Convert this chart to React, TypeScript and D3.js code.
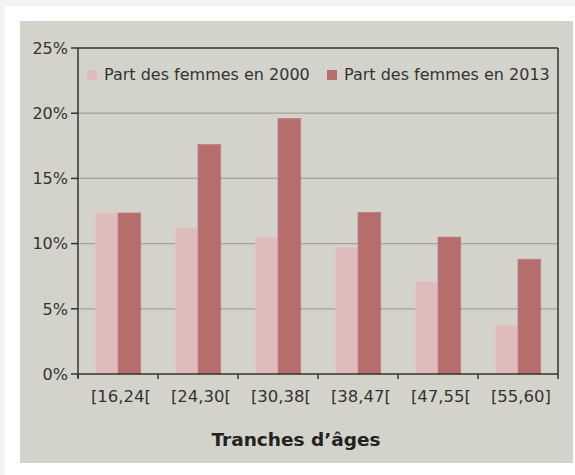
import React from "react";
import * as d3 from "d3";

const categories = ["[16,24[", "[24,30[", "[30,38[", "[38,47[", "[47,55[", "[55,60]"];
const series = ["Part des femmes en 2000", "Part des femmes en 2013"];
const values2000 = [12.35, 11.2, 10.5, 9.7, 7.1, 3.75];
const values2013 = [12.35, 17.6, 19.6, 12.4, 10.5, 8.8];
const yTicks = [0, 5, 10, 15, 20, 25];
const xTitle = "Tranches d’âges";

const colors = ["#dfbcbc", "#b56e6c"];
const FONT = "'DejaVu Sans', Verdana, sans-serif";

export default function App() {
  const W = 575, H = 475;
  const left = 78, right = 558, top = 48, bottom = 374;
  const x0 = d3.scaleBand<string>().domain(categories).range([left, right]).paddingInner(0).paddingOuter(0);
  const x1 = d3.scaleBand<string>().domain(series).range([0, x0.bandwidth()]).paddingInner(0).paddingOuter(0.76);
  const y = d3.scaleLinear().domain([0, 25]).range([bottom, top]);
  const data = [values2000, values2013];
  const boundaries = [...categories.map((c) => x0(c) as number), right];

  return (
    <div style={{ position: "absolute", left: 0, top: 0, width: W, height: H }}>
      <svg width={W} height={H} style={{ display: "block" }}>
        <rect x={0} y={0} width={W} height={H} fill="#f3f3f3" />
        <rect x={5} y={6} width={W} height={H} fill="#ffffff" />
        <rect x={20} y={21} width={553} height={442} fill="#d3d3cb" />
        {yTicks.filter((t) => t > 0 && t < 25).map((t) => (
          <line key={t} x1={left} x2={right} y1={y(t)} y2={y(t)} stroke="#a2a39f" strokeWidth={1.2} />
        ))}
        {data.map((vals, si) =>
          vals.map((v, i) => (
            <rect
              key={si + "-" + i}
              x={(x0(categories[i]) as number) + (x1(series[si]) as number)}
              y={y(v)}
              width={x1.bandwidth()}
              height={bottom - y(v)}
              fill={colors[si]}
              stroke={si === 0 ? "#e4c6c6" : "#bd8281"}
              strokeWidth={0.8}
            />
          ))
        )}
        {/* frame */}
        <line x1={left} x2={right} y1={top} y2={top} stroke="#333" strokeWidth={1.5} />
        <line x1={right} x2={right} y1={top} y2={bottom} stroke="#333" strokeWidth={1.5} />
        <line x1={left} x2={left} y1={top} y2={bottom + 4} stroke="#333" strokeWidth={1.5} />
        <line x1={left} x2={right} y1={bottom} y2={bottom} stroke="#333" strokeWidth={1.5} />
        {yTicks.map((t) => (
          <g key={t}>
            <line x1={left - 7} x2={left} y1={y(t)} y2={y(t)} stroke="#333" strokeWidth={1.5} />
            <text x={left - 10} y={y(t)} dy="0.36em" textAnchor="end" fontFamily={FONT} fontSize={16} fill="#333">
              {t}%
            </text>
          </g>
        ))}
        {boundaries.map((b, i) => (
          <line key={i} x1={b} x2={b} y1={bottom} y2={bottom + 5} stroke="#333" strokeWidth={1.5} />
        ))}
        {categories.map((c) => (
          <text key={c} x={(x0(c) as number) + x0.bandwidth() / 2 + 3} y={402} textAnchor="middle" fontFamily={FONT} fontSize={16.5} fill="#333">
            {c}
          </text>
        ))}
        <text x={296} y={446} textAnchor="middle" fontFamily={FONT} fontSize={18.5} fontWeight="bold" fill="#222">
          {xTitle}
        </text>
        {/* legend */}
        {series.map((s, i) => {
          const lx = i === 0 ? 87 : 327;
          return (
            <g key={s}>
              <rect x={lx} y={70} width={10} height={10} fill={colors[i]} />
              <text x={lx + 17} y={80} fontFamily={FONT} fontSize={16} fill="#333">
                {s}
              </text>
            </g>
          );
        })}
      </svg>
    </div>
  );
}
